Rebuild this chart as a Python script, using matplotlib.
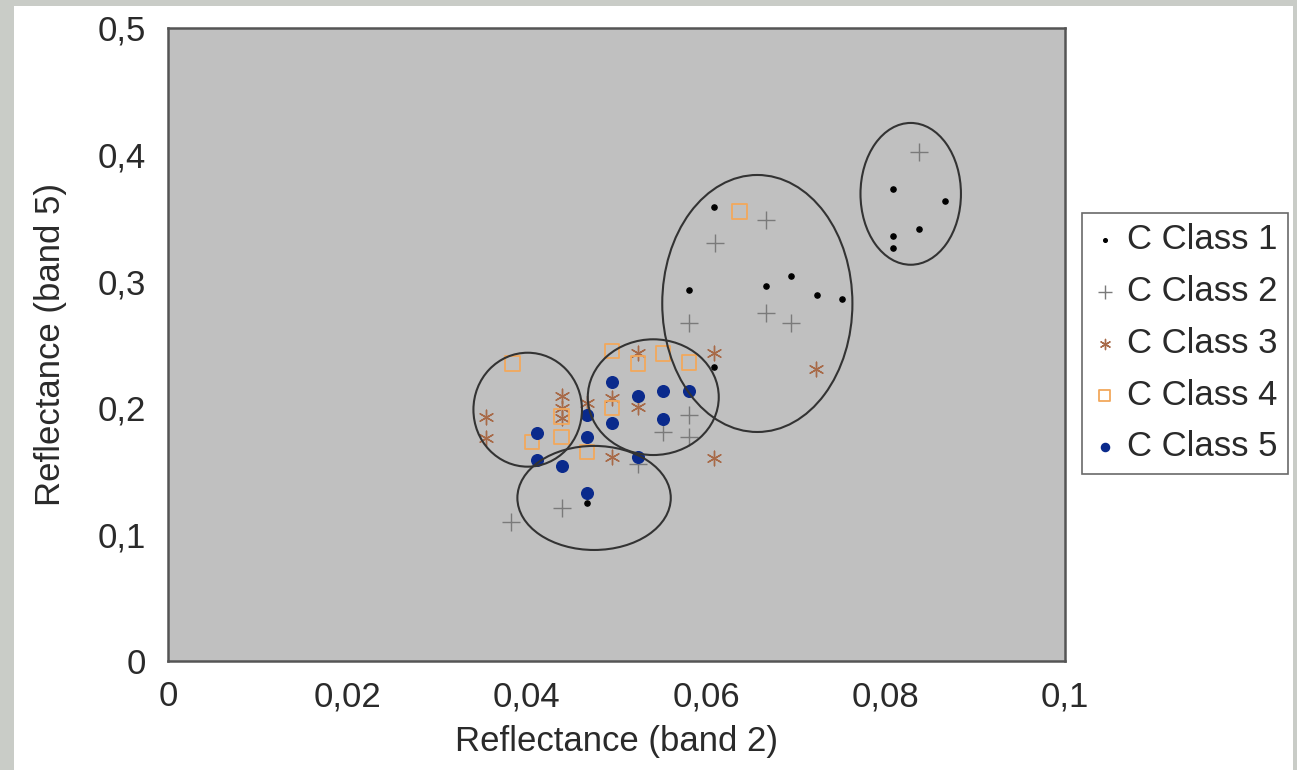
import matplotlib
matplotlib.use('Agg')
import matplotlib.pyplot as plt
from matplotlib.patches import Ellipse, Rectangle
from matplotlib.ticker import MultipleLocator, FuncFormatter

plt.rcParams['font.family'] = ['Liberation Sans', 'DejaVu Sans']

# band 2 / band 5 reflectance per class
class1_x = [0.0609, 0.0581, 0.0667, 0.0695, 0.0723, 0.0751, 0.0609,
            0.0808, 0.0866, 0.0837, 0.0808, 0.0808,
            0.0467, 0.0524, 0.0552, 0.0495, 0.0411]
class1_y = [0.359, 0.293, 0.296, 0.304, 0.289, 0.286, 0.232,
            0.373, 0.363, 0.341, 0.336, 0.326,
            0.125, 0.209, 0.213, 0.188, 0.159]

class2_x = [0.0837, 0.0667, 0.0610, 0.0581, 0.0667, 0.0695, 0.0581,
            0.0552, 0.0581, 0.0524, 0.0439, 0.0382]
class2_y = [0.402, 0.348, 0.330, 0.267, 0.275, 0.267, 0.194,
            0.181, 0.177, 0.156, 0.121, 0.110]

class3_x = [0.0609, 0.0609, 0.0524, 0.0495, 0.0524, 0.0495, 0.0354,
            0.0354, 0.0439, 0.0439, 0.0439, 0.0467, 0.0722]
class3_y = [0.243, 0.160, 0.243, 0.2075, 0.201, 0.161, 0.193,
            0.176, 0.209, 0.200, 0.192, 0.204, 0.231]

class4_x = [0.0637, 0.0384, 0.0495, 0.0524, 0.0552, 0.0581, 0.0495,
            0.0467, 0.0439, 0.0406, 0.0439]
class4_y = [0.355, 0.235, 0.245, 0.235, 0.243, 0.236, 0.200,
            0.165, 0.177, 0.173, 0.193]

class5_x = [0.0495, 0.0581, 0.0552, 0.0467, 0.0467, 0.0411, 0.0411,
            0.0439, 0.0524, 0.0467, 0.0495, 0.0524, 0.0552]
class5_y = [0.2206, 0.2135, 0.191, 0.194, 0.177, 0.180, 0.159,
            0.154, 0.161, 0.133, 0.188, 0.209, 0.213]

# hand-drawn cluster ellipses: centre x, centre y, width, height
ellipses = [
    (0.0828, 0.369, 0.0112, 0.112),
    (0.0657, 0.2824, 0.0212, 0.203),
    (0.0401, 0.1985, 0.0121, 0.090),
    (0.0541, 0.2084, 0.0146, 0.0914),
    (0.0475, 0.1288, 0.0171, 0.0822),
]

labels = ['C Class 1', 'C Class 2', 'C Class 3', 'C Class 4', 'C Class 5']

fig = plt.figure(figsize=(12.97, 7.70), dpi=100)
fig.patch.set_facecolor('#c9ccc7')
fig.add_artist(Rectangle((14 / 1297, 0), 1279 / 1297, 764 / 770,
                         transform=fig.transFigure, facecolor='white',
                         edgecolor='none', zorder=-10))

ax = fig.add_axes([168 / 1297, 1 - 661 / 770, 897 / 1297, 633 / 770])
ax.set_facecolor('#c0c0c0')

ax.scatter(class1_x, class1_y, marker='o', s=14, color='black', label=labels[0], zorder=3)
ax.scatter(class2_x, class2_y, marker='+', s=180, color='#7a7a7a', linewidths=1.0,
           label=labels[1], zorder=3)
ax.scatter(class3_x, class3_y, marker=(6, 2, 0), s=110, color='#a86a48',
           linewidths=1.0, label=labels[2], zorder=3)
ax.scatter(class4_x, class4_y, marker='s', s=110, facecolor='none', edgecolor='#f2a85c',
           linewidths=1.3, label=labels[3], zorder=3)
ax.scatter(class5_x, class5_y, marker='o', s=70, color='#0a2a8c', label=labels[4], zorder=3)

for cx, cy, w, h in ellipses:
    ax.add_patch(Ellipse((cx, cy), w, h, facecolor='none', edgecolor='#333333',
                         linewidth=1.5, zorder=4))

ax.set_xlim(0, 0.1)
ax.set_ylim(0, 0.5)
ax.xaxis.set_major_locator(MultipleLocator(0.02))
ax.yaxis.set_major_locator(MultipleLocator(0.1))
fmt = FuncFormatter(lambda v, p: f'{v:g}'.replace('.', ','))
ax.xaxis.set_major_formatter(fmt)
ax.yaxis.set_major_formatter(fmt)
ax.tick_params(length=0, labelsize=25, labelcolor='#2a2a2a')
ax.tick_params(axis='x', pad=14)
ax.tick_params(axis='y', pad=16)
for sp in ax.spines.values():
    sp.set_color('#555555')
    sp.set_linewidth(1.8)

ax.set_xlabel('Reflectance (band 2)', fontsize=25, color='#2a2a2a', labelpad=8)
ax.set_ylabel('Reflectance (band 5)', fontsize=25, color='#2a2a2a', labelpad=22)

leg = ax.legend(loc='upper left', bbox_to_anchor=(1082 / 1297, 1 - 213 / 770),
                bbox_transform=fig.transFigure, borderaxespad=0, fontsize=25,
                frameon=True, fancybox=False, edgecolor='#444444',
                handlelength=0.7, handletextpad=0.3, labelspacing=0.54,
                borderpad=0.3, scatterpoints=1, markerscale=0.7)
leg.get_frame().set_linewidth(1.2)
for t in leg.get_texts():
    t.set_color('#2a2a2a')

fig.savefig('out.png', dpi=100, facecolor=fig.get_facecolor())
